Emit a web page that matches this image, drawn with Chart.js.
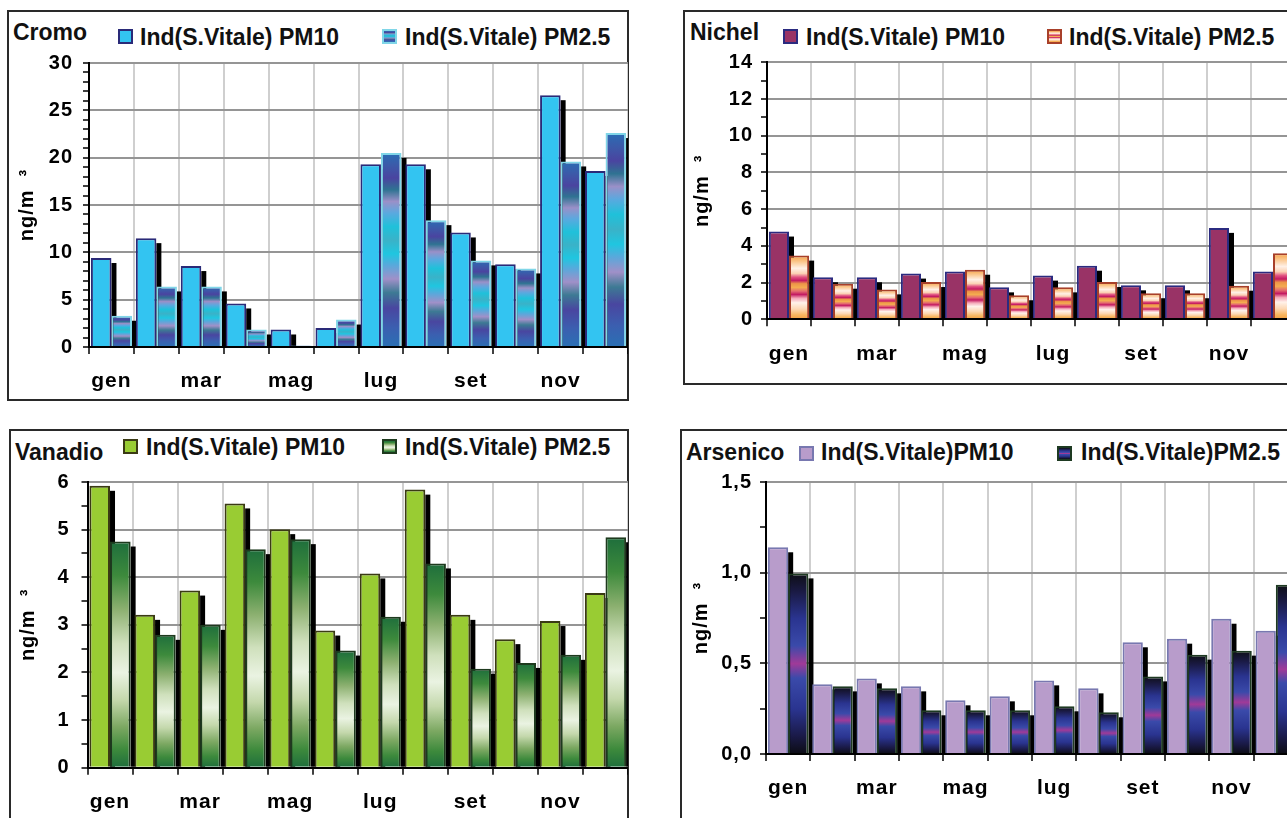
<!DOCTYPE html>
<html><head><meta charset="utf-8">
<script src="https://cdn.jsdelivr.net/npm/chart.js@4.4.1/dist/chart.umd.min.js"></script>
<style>
html,body{margin:0;padding:0;width:1287px;height:818px;overflow:hidden;background:#fff;}
.frame{position:absolute;box-sizing:border-box;border:2px solid #2a2a2a;}
canvas.c{position:absolute;}
.txt{position:absolute;font:bold 23px "Liberation Sans",Arial,sans-serif;color:#111;white-space:nowrap;line-height:1;}
.sw{position:absolute;box-sizing:border-box;width:15px;height:15px;border:2px solid;}
</style></head><body>
<script>
// ---- data ----
const months = ['gen','feb','mar','apr','mag','giu','lug','ago','set','ott','nov','dic'];
const shownMonths = ['gen','mar','mag','lug','set','nov'];

const cromoTitle = 'Cromo';
const cromoSeries = ['Ind(S.Vitale) PM10', 'Ind(S.Vitale) PM2.5'];
const cromoPM10 = [9.4, 11.5, 8.55, 4.6, 1.85, 2.0, 19.3, 19.3, 12.1, 8.75, 26.6, 18.6];
const cromoPM25 = [3.3, 6.4, 6.4, 1.85, 0.17, 2.9, 20.5, 13.4, 9.15, 8.3, 19.6, 22.6];
const cromoYLabels = ['0','5','10','15','20','25','30'];

const nichelTitle = 'Nichel';
const nichelSeries = ['Ind(S.Vitale) PM10', 'Ind(S.Vitale) PM2.5'];
const nichelPM10 = [4.78, 2.29, 2.29, 2.49, 2.6, 1.74, 2.38, 2.92, 1.85, 1.85, 4.98, 2.6];
const nichelPM25 = [3.47, 1.94, 1.63, 2.03, 2.7, 1.31, 1.74, 2.03, 1.42, 1.42, 1.83, 3.6];
const nichelYLabels = ['0','2','4','6','8','10','12','14'];

const vanadioTitle = 'Vanadio';
const vanadioSeries = ['Ind(S.Vitale) PM10', 'Ind(S.Vitale) PM2.5'];
const vanadioPM10 = [5.92, 3.21, 3.72, 5.55, 5.01, 2.88, 4.08, 5.84, 3.21, 2.70, 3.08, 3.67];
const vanadioPM25 = [4.75, 2.79, 3.0, 4.59, 4.8, 2.46, 3.17, 4.29, 2.08, 2.2, 2.37, 4.84];
const vanadioYLabels = ['0','1','2','3','4','5','6'];

const arsenicoTitle = 'Arsenico';
const arsenicoSeries = ['Ind(S.Vitale)PM10', 'Ind(S.Vitale)PM2.5'];
const arsenicoPM10 = [1.14, 0.384, 0.417, 0.373, 0.296, 0.318, 0.406, 0.362, 0.616, 0.636, 0.746, 0.68];
const arsenicoPM25 = [0.996, 0.373, 0.362, 0.241, 0.241, 0.241, 0.263, 0.23, 0.428, 0.548, 0.57, 0.934];
const arsenicoYLabels = ['0,0','0,5','1,0','1,5'];

const yTitle = 'ng/m  \u00B3';

// ---- styles ----
const cromoStops = [[0,'#2a6db4'],[0.07,'#3d58a8'],[0.13,'#4a44a0'],[0.19,'#2f7392'],[0.25,'#9a90c8'],[0.31,'#5aa9df'],[0.38,'#1fc1da'],[0.45,'#3ab2c8'],[0.52,'#1fc6e0'],[0.58,'#5aa8db'],[0.65,'#a090c8'],[0.72,'#3d7a94'],[0.8,'#4946a0'],[0.9,'#3b5fb0'],[1,'#2a70b4']];
const nichelStops = [[0,'#f5a040'],[0.1,'#fbc890'],[0.2,'#fff0e6'],[0.28,'#fbd2b4'],[0.34,'#e05080'],[0.39,'#c41a62'],[0.44,'#ec9448'],[0.5,'#f4ac50'],[0.56,'#e46a70'],[0.61,'#c41a62'],[0.67,'#f4a8b8'],[0.74,'#fff2ea'],[0.84,'#fdd8b4'],[0.93,'#f8b660'],[1,'#f5a040']];
const vanadioStops = [[0,'#1e6e3c'],[0.15,'#3d8a3c'],[0.3,'#8cb070'],[0.45,'#cfe0bc'],[0.58,'#eaf3e2'],[0.7,'#c4d8ac'],[0.82,'#7ca862'],[0.92,'#3d8a3c'],[1,'#1e6e3c']];
const arsenicoStops = [[0,'#0e0e16'],[0.1,'#1a1a44'],[0.25,'#2a3490'],[0.4,'#3a4aaa'],[0.5,'#a03a98'],[0.58,'#3a4aaa'],[0.75,'#2a3490'],[0.9,'#1a1a48'],[1,'#0c0c14']];

const FONT = '"Liberation Sans", Arial, sans-serif';
Chart.defaults.font.family = FONT;
Chart.defaults.font.weight = 'bold';
Chart.defaults.color = '#000';

function cssGrad(stops){ return 'linear-gradient(to bottom,' + stops.map(s=>s[1]+' '+(s[0]*100)+'%').join(',') + ')'; }

function barGrad(c, stops){
  const chart = c.chart;
  const area = chart.chartArea;
  if (!area || c.type !== 'data') return stops[Math.floor(stops.length/2)][1];
  const ys = chart.scales.y;
  const top = ys.getPixelForValue(c.raw), base = ys.getPixelForValue(0);
  if (base - top < 1) return stops[0][1];
  const g = chart.ctx.createLinearGradient(0, top, 0, base);
  stops.forEach(s => g.addColorStop(s[0], s[1]));
  return g;
}

const shadowPlugin = {
  id: 'shadow3d',
  beforeDraw(chart){ chart.ctx.letterSpacing = '1px'; },
  beforeDatasetsDraw(chart){
    const {ctx, chartArea: a} = chart;
    ctx.save();
    ctx.beginPath(); ctx.rect(a.left, a.top, a.right - a.left, a.bottom - a.top); ctx.clip();
    ctx.fillStyle = '#000';
    chart.data.datasets.forEach((ds, di) => {
      chart.getDatasetMeta(di).data.forEach(el => {
        const p = el.getProps(['x','y','base','width'], true);
        const top = p.y + 5;
        if (p.base - top <= 0) return;
        ctx.fillRect(p.x + p.width/2, top, 5, p.base - top);
      });
    });
    ctx.restore();
  }
};

function addEl(cls, style, text){
  const d = document.createElement('div');
  d.className = cls;
  Object.assign(d.style, style);
  if (text) d.textContent = text;
  document.body.appendChild(d);
  return d;
}

function panel(p){
  addEl('frame', {left:p.frame[0]+'px', top:p.frame[1]+'px', width:p.frame[2]+'px', height:p.frame[3]+'px'});
  addEl('txt', {left:p.titleX+'px', top:(p.titleBase-19.5)+'px'}, p.title);
  addEl('sw', {left:p.sw[0]+'px', top:p.swY+'px', borderColor:p.b10, background:p.c10});
  addEl('sw', {left:p.sw[1]+'px', top:p.swY+'px', borderColor:p.b25, background:cssGrad(p.stops)});
  addEl('txt', {left:p.tx[0]+'px', top:(p.legBase-19.5)+'px'}, p.series[0]);
  addEl('txt', {left:p.tx[1]+'px', top:(p.legBase-19.5)+'px'}, p.series[1]);

  const cv = document.createElement('canvas');
  cv.className = 'c';
  const cw = Math.round(p.area[2] - p.cx), ch = p.cbottom - p.cy;
  cv.width = cw; cv.height = ch;
  cv.style.left = p.cx + 'px'; cv.style.top = p.cy + 'px';
  cv.style.width = cw + 'px'; cv.style.height = ch + 'px';
  document.body.appendChild(cv);

  const isMajor = v => { const k = v / p.major; return Math.abs(k - Math.round(k)) < 1e-6; };
  new Chart(cv, {
    type: 'bar',
    data: {
      labels: months,
      datasets: [
        {label:p.series[0], data:p.pm10, backgroundColor:p.c10, borderColor:p.b10, borderWidth:2},
        {label:p.series[1], data:p.pm25, backgroundColor:c => barGrad(c, p.stops), borderColor:p.b25, borderWidth:2}
      ]
    },
    options: {
      responsive:false, animation:false, devicePixelRatio:1,
      layout:{padding:{left:0, right:0, bottom:0, top:p.area[1] - p.cy}},
      datasets:{bar:{categoryPercentage:0.915, barPercentage:1}},
      plugins:{legend:{display:false}, title:{display:false}, tooltip:{enabled:false}},
      scales:{
        x:{
          offset:true,
          grid:{offset:true, color:'#cfcfcf', lineWidth:2, tickColor:'#000', tickLength:7, tickWidth:1.5},
          border:{color:'#000', width:2, z:1},
          ticks:{autoSkip:false, maxRotation:0, minRotation:0, padding:15, color:'#000',
                 font:{size:21, weight:'bold', family:FONT},
                 callback:(v, i) => shownMonths.includes(months[i]) ? months[i] : ''},
          afterFit: s => { s.height = p.cbottom - p.area[3]; }
        },
        y:{
          min:0, max:p.max,
          ticks:{stepSize:p.step, autoSkip:false, padding:p.ypad, color:'#000',
                 font:{size:20, weight:'bold', family:FONT},
                 callback: v => isMajor(v) ? p.ylabels[Math.round(v / p.major)] : ''},
          grid:{color: c => (c.tick && isMajor(c.tick.value)) ? '#959595' : 'rgba(0,0,0,0)', lineWidth:2,
                tickColor:'#000', tickLength:6, tickWidth:1.5},
          border:{color:'#000', width:2, z:1},
          title:{display:true, text:yTitle, color:'#000', font:{size:20, weight:'bold', family:FONT},
                 padding:{top:p.tpad, bottom:0}},
          afterFit: s => { s.width = p.area[0] - p.cx; }
        }
      }
    },
    plugins:[shadowPlugin]
  });
}

panel({title:cromoTitle, series:cromoSeries, pm10:cromoPM10, pm25:cromoPM25, ylabels:cromoYLabels,
  max:30, step:1, major:5, c10:'#33c4f1', b10:'#2a2a78', b25:'#80d6e8', stops:cromoStops,
  frame:[7,10,622,391], titleX:13, titleBase:40.7, legBase:45, sw:[118,382], swY:28.5, tx:[140,405],
  cx:9, cy:12, cbottom:399, area:[89,63,628,347], ypad:10, tpad:6.9});

panel({title:nichelTitle, series:nichelSeries, pm10:nichelPM10, pm25:nichelPM25, ylabels:nichelYLabels,
  max:14, step:1, major:2, c10:'#993366', b10:'#2b2b80', b25:'#a8402a', stops:nichelStops,
  frame:[683,10,660,375], titleX:690, titleBase:40.7, legBase:45, sw:[783,1047], swY:29, tx:[806,1069],
  cx:685, cy:12, cbottom:383, area:[767,62.3,1295,319.3], ypad:8, tpad:5.5});

panel({title:vanadioTitle, series:vanadioSeries, pm10:vanadioPM10, pm25:vanadioPM25, ylabels:vanadioYLabels,
  max:6, step:0.5, major:1, c10:'#99cc33', b10:'#3a3a14', b25:'#1e3a1e', stops:vanadioStops,
  frame:[9,429,620,420], titleX:15, titleBase:460, legBase:455, sw:[123,382], swY:439, tx:[146,405],
  cx:11, cy:431, cbottom:818, area:[87.5,482,628,767.7], ypad:12, tpad:5.1});

panel({title:arsenicoTitle, series:arsenicoSeries, pm10:arsenicoPM10, pm25:arsenicoPM25, ylabels:arsenicoYLabels,
  max:1.5, step:0.25, major:0.5, c10:'#b89ccb', b10:'#7878b0', b25:'#1e3a22', stops:arsenicoStops,
  frame:[680,429,660,420], titleX:686, titleBase:460, legBase:460, sw:[799,1057], swY:446, tx:[821,1081],
  cx:682, cy:431, cbottom:818, area:[766,482,1298,754], ypad:8, tpad:7.2});
</script>
</body></html>
